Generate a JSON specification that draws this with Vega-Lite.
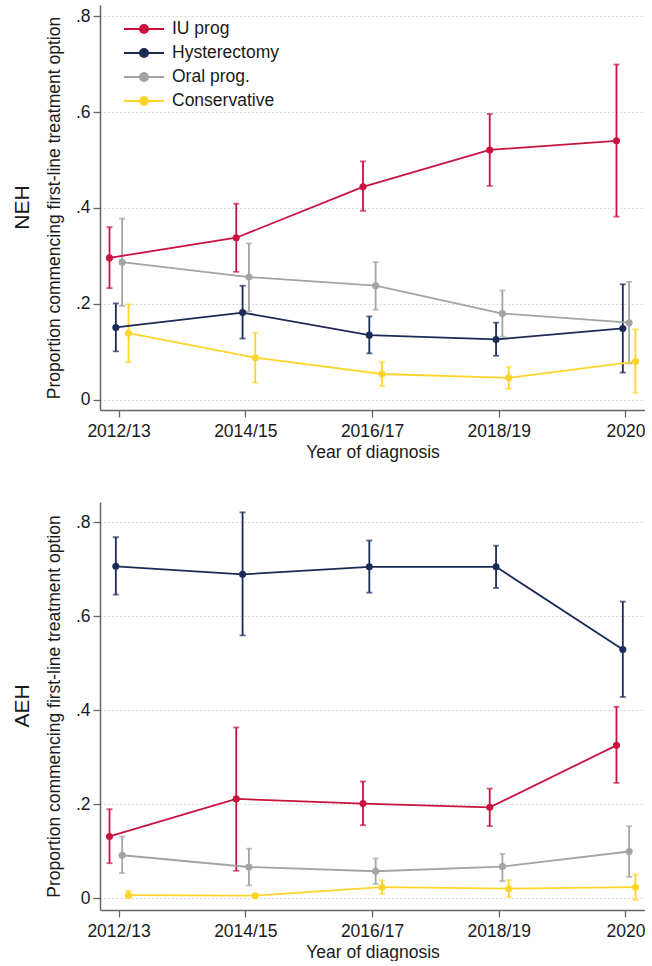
{
  "$schema": "https://vega.github.io/schema/vega-lite/v6.json",
  "padding": {"left": 12, "top": 5, "right": 0, "bottom": 0},
  "spacing": 41,
  "datasets": {
    "neh": [
      {"period": "2012/13", "treatment": "IU prog", "p": 0.296, "lo": 0.233, "hi": 0.360},
      {"period": "2014/15", "treatment": "IU prog", "p": 0.338, "lo": 0.267, "hi": 0.409},
      {"period": "2016/17", "treatment": "IU prog", "p": 0.444, "lo": 0.394, "hi": 0.497},
      {"period": "2018/19", "treatment": "IU prog", "p": 0.521, "lo": 0.446, "hi": 0.596},
      {"period": "2020", "treatment": "IU prog", "p": 0.540, "lo": 0.382, "hi": 0.699},
      {"period": "2012/13", "treatment": "Hysterectomy", "p": 0.151, "lo": 0.101, "hi": 0.201},
      {"period": "2014/15", "treatment": "Hysterectomy", "p": 0.182, "lo": 0.128, "hi": 0.238},
      {"period": "2016/17", "treatment": "Hysterectomy", "p": 0.135, "lo": 0.097, "hi": 0.174},
      {"period": "2018/19", "treatment": "Hysterectomy", "p": 0.126, "lo": 0.092, "hi": 0.161},
      {"period": "2020", "treatment": "Hysterectomy", "p": 0.149, "lo": 0.057, "hi": 0.241},
      {"period": "2012/13", "treatment": "Oral prog.", "p": 0.287, "lo": 0.196, "hi": 0.378},
      {"period": "2014/15", "treatment": "Oral prog.", "p": 0.256, "lo": 0.185, "hi": 0.326},
      {"period": "2016/17", "treatment": "Oral prog.", "p": 0.238, "lo": 0.188, "hi": 0.287},
      {"period": "2018/19", "treatment": "Oral prog.", "p": 0.180, "lo": 0.132, "hi": 0.228},
      {"period": "2020", "treatment": "Oral prog.", "p": 0.161, "lo": 0.076, "hi": 0.246},
      {"period": "2012/13", "treatment": "Conservative", "p": 0.139, "lo": 0.079, "hi": 0.199},
      {"period": "2014/15", "treatment": "Conservative", "p": 0.088, "lo": 0.036, "hi": 0.140},
      {"period": "2016/17", "treatment": "Conservative", "p": 0.054, "lo": 0.029, "hi": 0.079},
      {"period": "2018/19", "treatment": "Conservative", "p": 0.046, "lo": 0.023, "hi": 0.069},
      {"period": "2020", "treatment": "Conservative", "p": 0.080, "lo": 0.015, "hi": 0.147}
    ],
    "aeh": [
      {"period": "2012/13", "treatment": "IU prog", "p": 0.131, "lo": 0.074, "hi": 0.189},
      {"period": "2014/15", "treatment": "IU prog", "p": 0.211, "lo": 0.058, "hi": 0.363},
      {"period": "2016/17", "treatment": "IU prog", "p": 0.201, "lo": 0.155, "hi": 0.248},
      {"period": "2018/19", "treatment": "IU prog", "p": 0.193, "lo": 0.153, "hi": 0.233},
      {"period": "2020", "treatment": "IU prog", "p": 0.325, "lo": 0.245, "hi": 0.407},
      {"period": "2012/13", "treatment": "Hysterectomy", "p": 0.706, "lo": 0.646, "hi": 0.768},
      {"period": "2014/15", "treatment": "Hysterectomy", "p": 0.689, "lo": 0.559, "hi": 0.821},
      {"period": "2016/17", "treatment": "Hysterectomy", "p": 0.705, "lo": 0.650, "hi": 0.761},
      {"period": "2018/19", "treatment": "Hysterectomy", "p": 0.705, "lo": 0.660, "hi": 0.750},
      {"period": "2020", "treatment": "Hysterectomy", "p": 0.529, "lo": 0.428, "hi": 0.631},
      {"period": "2012/13", "treatment": "Oral prog.", "p": 0.091, "lo": 0.053, "hi": 0.131},
      {"period": "2014/15", "treatment": "Oral prog.", "p": 0.066, "lo": 0.027, "hi": 0.105},
      {"period": "2016/17", "treatment": "Oral prog.", "p": 0.057, "lo": 0.030, "hi": 0.084},
      {"period": "2018/19", "treatment": "Oral prog.", "p": 0.067, "lo": 0.036, "hi": 0.094},
      {"period": "2020", "treatment": "Oral prog.", "p": 0.099, "lo": 0.045, "hi": 0.153},
      {"period": "2012/13", "treatment": "Conservative", "p": 0.006, "lo": 0.000, "hi": 0.015},
      {"period": "2014/15", "treatment": "Conservative", "p": 0.005, "lo": 0.001, "hi": 0.009},
      {"period": "2016/17", "treatment": "Conservative", "p": 0.023, "lo": 0.009, "hi": 0.038},
      {"period": "2018/19", "treatment": "Conservative", "p": 0.020, "lo": 0.002, "hi": 0.038},
      {"period": "2020", "treatment": "Conservative", "p": 0.023, "lo": -0.004, "hi": 0.050}
    ]
  },
  "vconcat": [
    {
      "data": {"name": "neh"},
      "width": 545,
      "height": 405,
      "title": {"text": "NEH", "orient": "left", "anchor": "middle", "fontSize": 21, "fontWeight": "normal", "offset": 12, "color": "#1a1a1a"},
      "encoding": {
        "x": {"field": "period", "type": "ordinal", "sort": ["2012/13", "2014/15", "2016/17", "2018/19", "2020"],
              "scale": {"type": "band", "paddingInner": 0.7, "paddingOuter": 0},
              "axis": {"title": "Year of diagnosis"}},
        "xOffset": {"field": "treatment", "type": "nominal", "sort": ["IU prog", "Hysterectomy", "Oral prog.", "Conservative"],
                    "scale": {"type": "point", "range": [9.5, 28.5], "padding": 0}}
      },
      "layer": [
        {"mark": {"type": "rule", "strokeWidth": 1.8},
         "encoding": {"y": {"field": "lo", "type": "quantitative"}, "y2": {"field": "hi"},
                      "stroke": {"field": "treatment", "type": "nominal", "legend": {"title": null}}}},
        {"mark": {"type": "tick", "size": 6, "thickness": 1.8, "orient": "horizontal"},
         "encoding": {"y": {"field": "lo", "type": "quantitative"},
                      "fill": {"field": "treatment", "type": "nominal", "legend": {"title": null}}}},
        {"mark": {"type": "tick", "size": 6, "thickness": 1.8, "orient": "horizontal"},
         "encoding": {"y": {"field": "hi", "type": "quantitative"},
                      "fill": {"field": "treatment", "type": "nominal", "legend": {"title": null}}}},
        {"mark": {"type": "line", "strokeWidth": 1.8},
         "encoding": {"y": {"field": "p", "type": "quantitative",
                            "scale": {"domain": [-0.021, 0.823], "nice": false, "zero": false},
                            "axis": {"values": [0, 0.2, 0.4, 0.6, 0.8], "title": "Proportion commencing first-line treatment option"}},
                      "stroke": {"field": "treatment", "type": "nominal",
                                 "scale": {"domain": ["IU prog", "Hysterectomy", "Oral prog.", "Conservative"], "range": ["#c8133f", "#1b2a57", "#a3a3a3", "#fdd52a"]},
                                 "legend": {"title": null}}}},
        {"mark": {"type": "point", "filled": true, "size": 50, "opacity": 1},
         "encoding": {"y": {"field": "p", "type": "quantitative"},
                      "fill": {"field": "treatment", "type": "nominal",
                               "scale": {"domain": ["IU prog", "Hysterectomy", "Oral prog.", "Conservative"], "range": ["#c8133f", "#1b2a57", "#a3a3a3", "#fdd52a"]},
                               "legend": {"title": null}}}}
      ]
    },
    {
      "data": {"name": "aeh"},
      "width": 545,
      "height": 408,
      "title": {"text": "AEH", "orient": "left", "anchor": "middle", "fontSize": 21, "fontWeight": "normal", "offset": 12, "color": "#1a1a1a"},
      "encoding": {
        "x": {"field": "period", "type": "ordinal", "sort": ["2012/13", "2014/15", "2016/17", "2018/19", "2020"],
              "scale": {"type": "band", "paddingInner": 0.7, "paddingOuter": 0},
              "axis": {"title": "Year of diagnosis"}},
        "xOffset": {"field": "treatment", "type": "nominal", "sort": ["IU prog", "Hysterectomy", "Oral prog.", "Conservative"],
                    "scale": {"type": "point", "range": [9.5, 28.5], "padding": 0}}
      },
      "layer": [
        {"mark": {"type": "rule", "strokeWidth": 1.8},
         "encoding": {"y": {"field": "lo", "type": "quantitative"}, "y2": {"field": "hi"},
                      "stroke": {"field": "treatment", "type": "nominal", "legend": null}}},
        {"mark": {"type": "tick", "size": 6, "thickness": 1.8, "orient": "horizontal"},
         "encoding": {"y": {"field": "lo", "type": "quantitative"},
                      "fill": {"field": "treatment", "type": "nominal", "legend": null}}},
        {"mark": {"type": "tick", "size": 6, "thickness": 1.8, "orient": "horizontal"},
         "encoding": {"y": {"field": "hi", "type": "quantitative"},
                      "fill": {"field": "treatment", "type": "nominal", "legend": null}}},
        {"mark": {"type": "line", "strokeWidth": 1.8},
         "encoding": {"y": {"field": "p", "type": "quantitative",
                            "scale": {"domain": [-0.0255, 0.843], "nice": false, "zero": false},
                            "axis": {"values": [0, 0.2, 0.4, 0.6, 0.8], "title": "Proportion commencing first-line treatment option"}},
                      "stroke": {"field": "treatment", "type": "nominal",
                                 "scale": {"domain": ["IU prog", "Hysterectomy", "Oral prog.", "Conservative"], "range": ["#c8133f", "#1b2a57", "#a3a3a3", "#fdd52a"]},
                                 "legend": null}}},
        {"mark": {"type": "point", "filled": true, "size": 50, "opacity": 1},
         "encoding": {"y": {"field": "p", "type": "quantitative"},
                      "fill": {"field": "treatment", "type": "nominal",
                               "scale": {"domain": ["IU prog", "Hysterectomy", "Oral prog.", "Conservative"], "range": ["#c8133f", "#1b2a57", "#a3a3a3", "#fdd52a"]},
                               "legend": null}}}
      ]
    }
  ],
  "config": {
    "font": "Liberation Sans",
    "view": {"stroke": null},
    "axis": {
      "labelFontSize": 17.5, "titleFontSize": 17.5, "titleFontWeight": "normal",
      "labelColor": "#1a1a1a", "titleColor": "#1a1a1a",
      "domainColor": "#666666", "domainWidth": 1.5,
      "tickColor": "#666666", "tickWidth": 1.3, "tickSize": 7,
      "labelPadding": 3
    },
    "axisX": {"labelAngle": 0, "grid": false, "titlePadding": 4, "labelPadding": 5},
    "axisY": {"grid": true, "gridColor": "#d0d0d0", "gridDash": [1.5, 2.5], "gridWidth": 1.2,
              "titleFontSize": 17.5,
              "labelExpr": "datum.value == 0 ? '0' : replace(format(datum.value, '.1f'), '0.', '.')",
              "titlePadding": 12},
    "legend": {
      "orient": "none", "legendX": 33, "legendY": 13,
      "symbolType": "M-2,0H2M-0.4,0A0.4,0.4 0 1,0 0.4,0A0.4,0.4 0 1,0 -0.4,0Z",
      "symbolSize": 400, "symbolStrokeWidth": 2, "symbolOpacity": 1,
      "labelFontSize": 17.5, "labelColor": "#1a1a1a", "labelOffset": 17,
      "rowPadding": 4, "padding": 0
    }
  }
}
